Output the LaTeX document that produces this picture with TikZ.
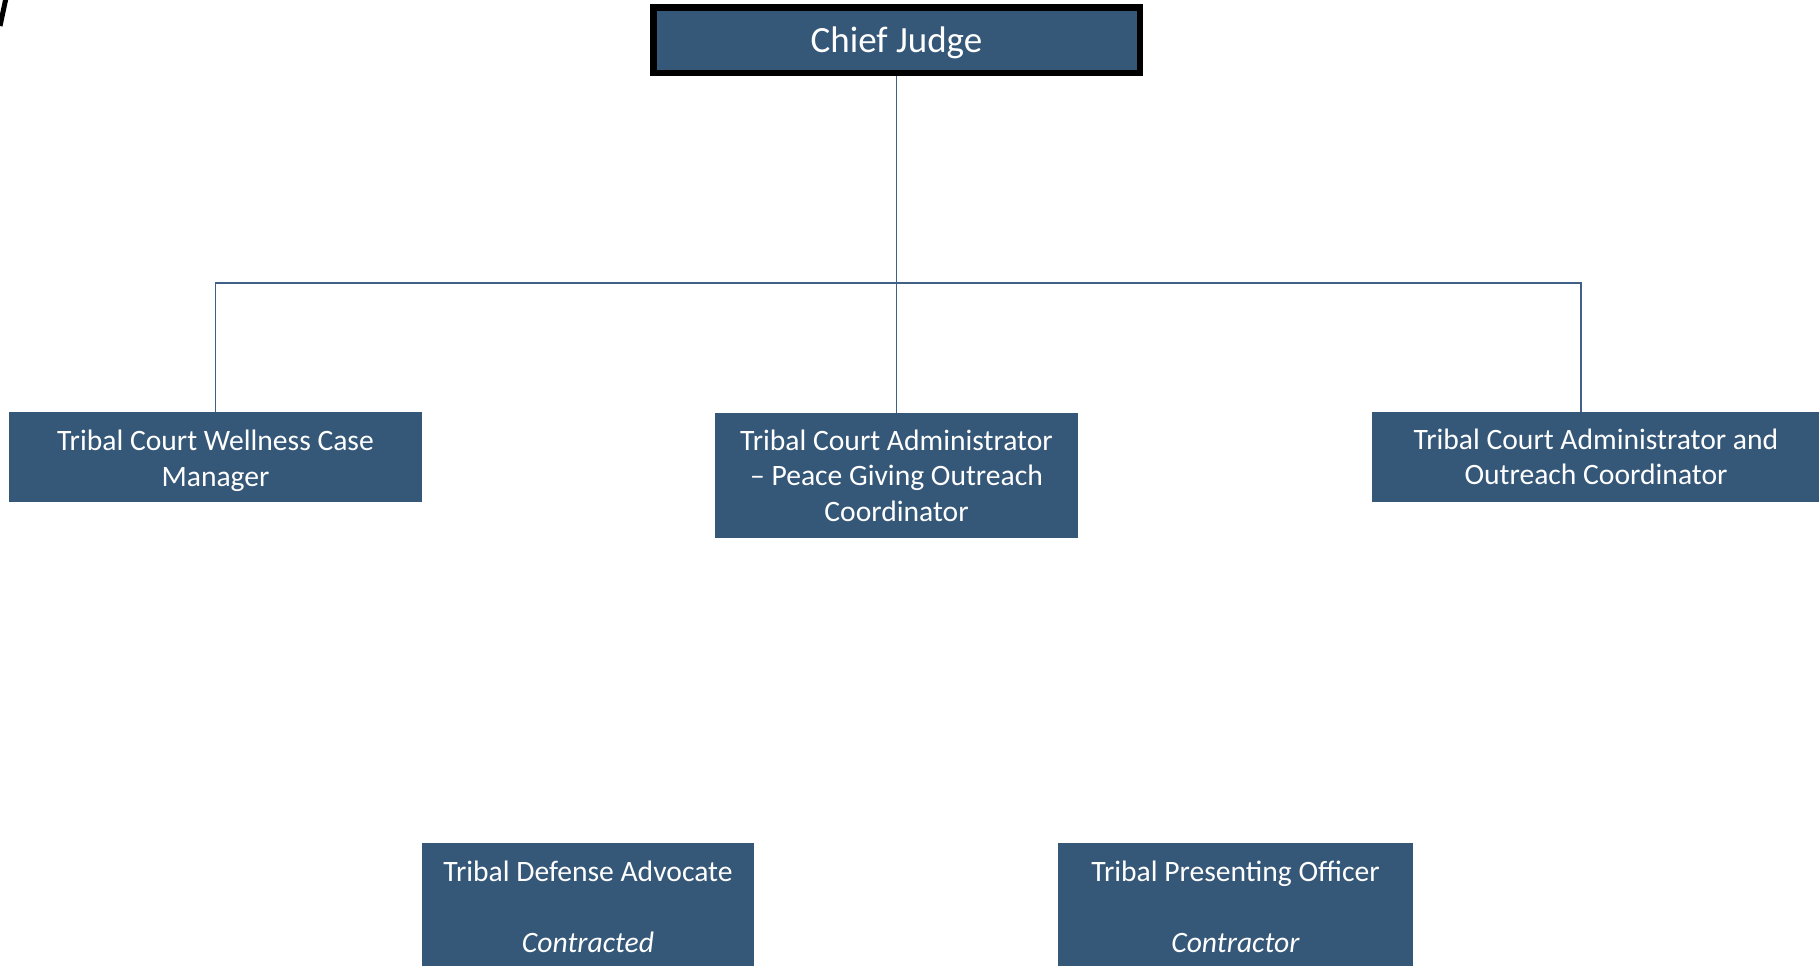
\documentclass[tikz,border=0pt]{standalone}
\usepackage{fontspec}
\setmainfont{Carlito}
\definecolor{BoxBlue}{RGB}{53,87,120}
\definecolor{LineBlue}{RGB}{64,96,134}

\begin{document}
\begin{tikzpicture}[x=0.5pt,y=-0.5pt,
  box/.style={fill=BoxBlue,text=white,inner sep=0pt,align=center,
    font=\fontsize{14.8}{17.75}\selectfont},
  link/.style={LineBlue,line width=0.75pt}]
\useasboundingbox (0,0) rectangle (1819,965);
\clip (0,0) rectangle (1819,965);

\draw[line width=2.5pt] (0,26) -- (6,-2);

\node[box,draw=black,line width=3.25pt,minimum width=243.25pt,minimum height=32.75pt,
  text height=16pt,text depth=3.5pt,
  font=\fontsize{18.5}{22}\selectfont] (judge) at (896.5,40) {Chief Judge};

\node[box,minimum width=206.5pt,minimum height=45pt] (wellness) at (215.5,457)
  {\rule{0pt}{14pt}Tribal Court Wellness Case\\Manager};
\node[box,minimum width=181.5pt,minimum height=62.5pt] (peace) at (896.5,475.5)
  {Tribal Court Administrator\\-- Peace Giving Outreach\\Coordinator};
\node[box,minimum width=224pt,minimum height=45pt] (outreach) at (1596,457)
  {Tribal Court Administrator and\\Outreach Coordinator};

\node[box,minimum width=166pt,minimum height=64pt] (defense) at (588,907)
  {Tribal Defense Advocate\\[17.75pt]\textit{Contracted}};
\node[box,minimum width=177.5pt,minimum height=64pt] (presenting) at (1235.5,907)
  {Tribal Presenting Officer\\[17.75pt]\textit{Contractor}};

\coordinate (bus) at (896.5,283);
\draw[link] (judge) -- (peace);
\draw[link] (wellness.north) |- (bus) -| ([xshift=-7.5pt]outreach.north);
\end{tikzpicture}
\end{document}
